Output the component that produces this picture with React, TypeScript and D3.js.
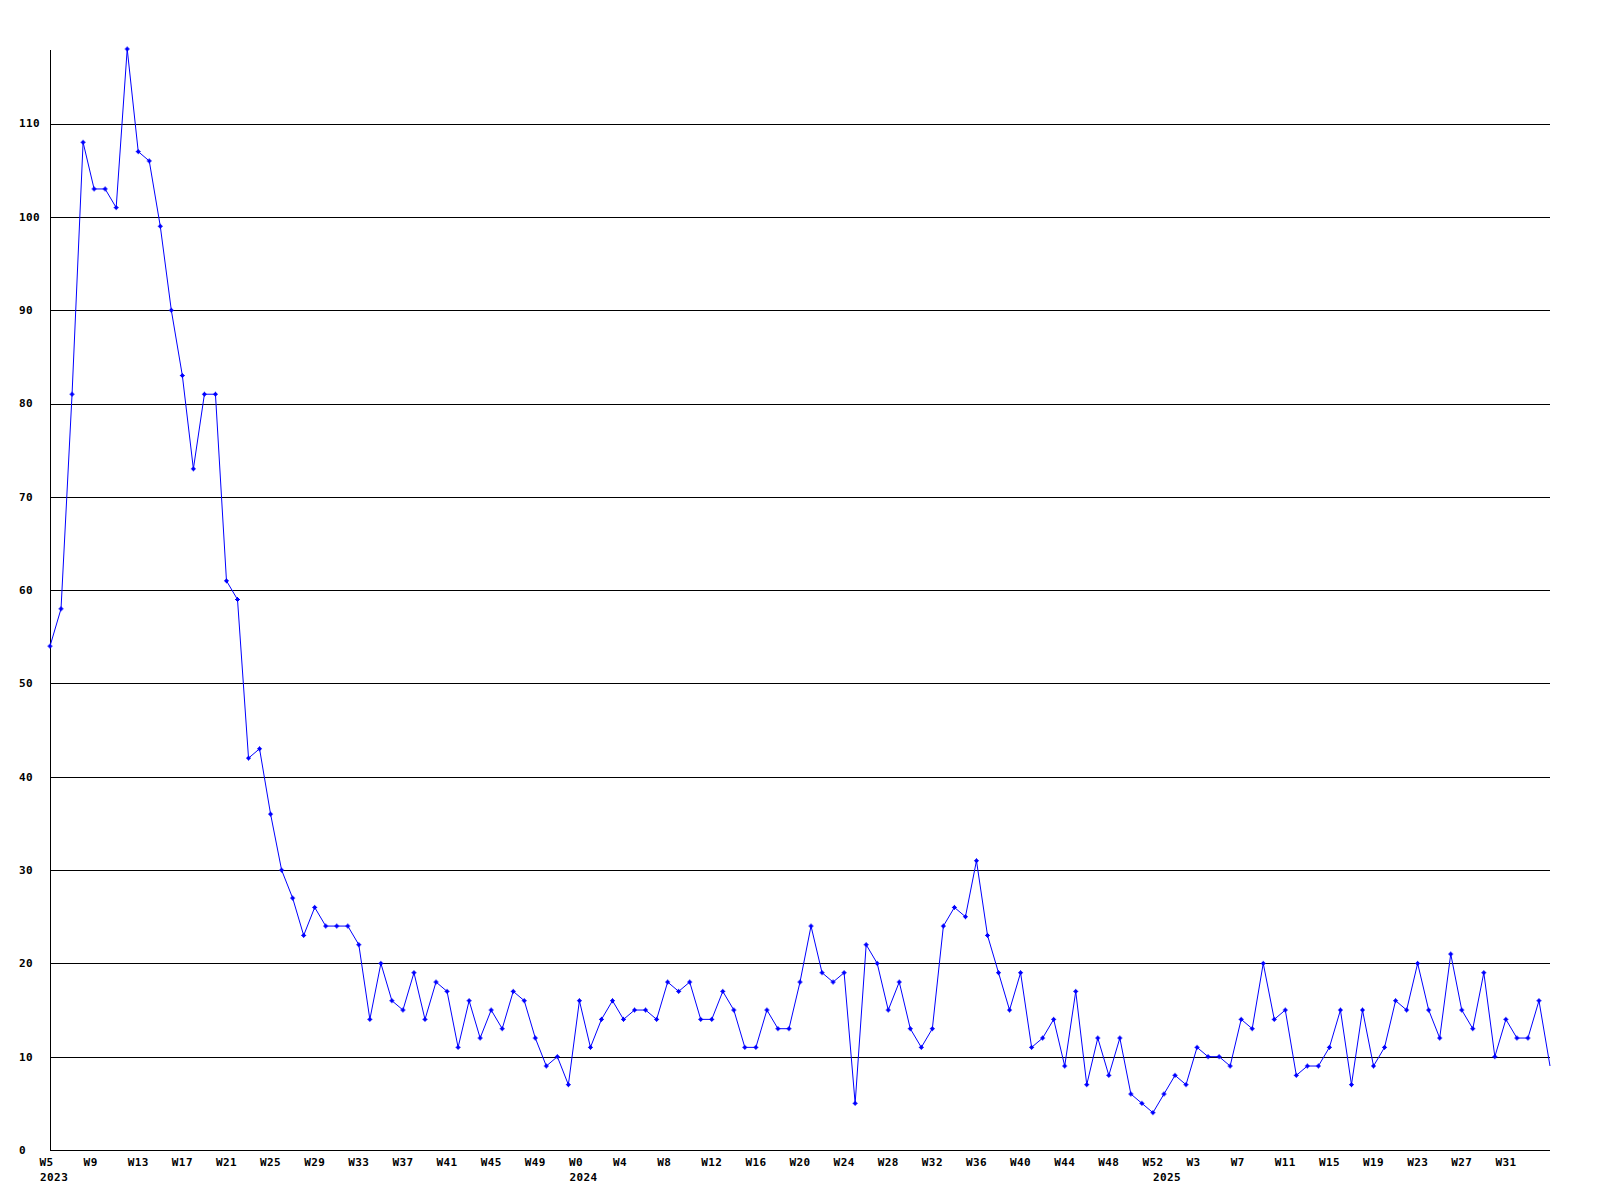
import React from "react";
import * as d3 from "d3";

const values: number[] = [
  54, 58, 81, 108, 103, 103, 101, 118, 107, 106,
  99, 90, 83, 73, 81, 81, 61, 59, 42, 43,
  36, 30, 27, 23, 26, 24, 24, 24, 22, 14,
  20, 16, 15, 19, 14, 18, 17, 11, 16, 12,
  15, 13, 17, 16, 12, 9, 10, 7, 16, 11,
  14, 16, 14, 15, 15, 14, 18, 17, 18, 14,
  14, 17, 15, 11, 11, 15, 13, 13, 18, 24,
  19, 18, 19, 5, 22, 20, 15, 18, 13, 11,
  13, 24, 26, 25, 31, 23, 19, 15, 19, 11,
  12, 14, 9, 17, 7, 12, 8, 12, 6, 5,
  4, 6, 8, 7, 11, 10, 10, 9, 14, 13,
  20, 14, 15, 8, 9, 9, 11, 15, 7, 15,
  9, 11, 16, 15, 20, 15, 12, 21, 15, 13,
  19, 10, 14, 12, 12, 16, 9,
];

const weekLabels: string[] = [
  "W5", "W9", "W13", "W17", "W21", "W25", "W29", "W33", "W37", "W41", "W45", "W49",
  "W0", "W4", "W8", "W12", "W16", "W20", "W24", "W28", "W32", "W36", "W40", "W44", "W48", "W52",
  "W3", "W7", "W11", "W15", "W19", "W23", "W27", "W31",
];
const weekLabelStep = 4;

const yearLabels: { label: string; week: number }[] = [
  { label: "2023", week: -0.9 },
  { label: "2024", week: 47.1 },
  { label: "2025", week: 100 },
];

const yTicks: number[] = [0, 10, 20, 30, 40, 50, 60, 70, 80, 90, 100, 110];

const W = 1600;
const H = 1200;
const left = 50;
const right = 1550;
const bottom = 1150;
const top = 49;
const FONT = "'DejaVu Sans Mono', monospace";

export default function App() {
  const x = d3.scaleLinear().domain([0, values.length - 1]).range([left, right]);
  const yMax = d3.max(values) as number;
  const y = d3.scaleLinear().domain([0, yMax]).range([bottom, top]);
  const line = d3
    .line<number>()
    .x((_, i) => x(i))
    .y((d) => y(d));
  const snap = (v: number) => Math.round(v) + 0.5;

  return (
    <svg
      width={W}
      height={H}
      style={{ position: "absolute", left: 0, top: 0, background: "#fff" }}
      xmlns="http://www.w3.org/2000/svg"
    >
      <rect x={0} y={0} width={W} height={H} fill="#fff" />
      {yTicks
        .filter((t) => t > 0)
        .map((t) => (
          <line
            key={"g" + t}
            x1={left}
            x2={right}
            y1={snap(y(t))}
            y2={snap(y(t))}
            stroke="#000"
            strokeWidth={1}
            shapeRendering="crispEdges"
          />
        ))}
      {/* axes */}
      <line x1={left + 0.5} x2={left + 0.5} y1={snap(y(yMax))} y2={snap(y(0))} stroke="#000" strokeWidth={1} shapeRendering="crispEdges" />
      <line x1={left} x2={right} y1={snap(y(0))} y2={snap(y(0))} stroke="#000" strokeWidth={1} shapeRendering="crispEdges" />
      {/* y labels */}
      {yTicks.map((t) => (
        <text
          key={"yl" + t}
          x={19}
          y={y(t)}
          dy="0.35em"
          fontFamily={FONT}
          fontWeight="bold"
          fontSize={11}
          letterSpacing={0.4}
          fill="#000"
        >
          {t}
        </text>
      ))}
      {/* x labels */}
      {weekLabels.map((l, i) => (
        <text
          key={"xl" + i}
          x={x(i * weekLabelStep) - 10.5}
          y={1162}
          dy="0.35em"
          fontFamily={FONT}
          fontWeight="bold"
          fontSize={11}
          letterSpacing={0.4}
          fill="#000"
        >
          {l}
        </text>
      ))}
      {yearLabels.map((yl) => (
        <text
          key={"yr" + yl.label}
          x={x(yl.week)}
          y={1177}
          dy="0.35em"
          fontFamily={FONT}
          fontWeight="bold"
          fontSize={11}
          letterSpacing={0.4}
          fill="#000"
        >
          {yl.label}
        </text>
      ))}
      {/* data line */}
      <path d={line(values) || ""} fill="none" stroke="#0000ff" strokeWidth={1} />
      {values.slice(0, -1).map((v, i) => {
        const cx = x(i);
        const cy = y(v);
        return (
          <g key={"m" + i} fill="#0000ff" stroke="#0000ff">
            <rect x={cx - 1.5} y={cy - 1.5} width={3} height={3} stroke="none" />
            <path d={`M${cx - 2.5},${cy}h5M${cx},${cy - 2.5}v5`} strokeWidth={1} fill="none" />
          </g>
        );
      })}
    </svg>
  );
}
